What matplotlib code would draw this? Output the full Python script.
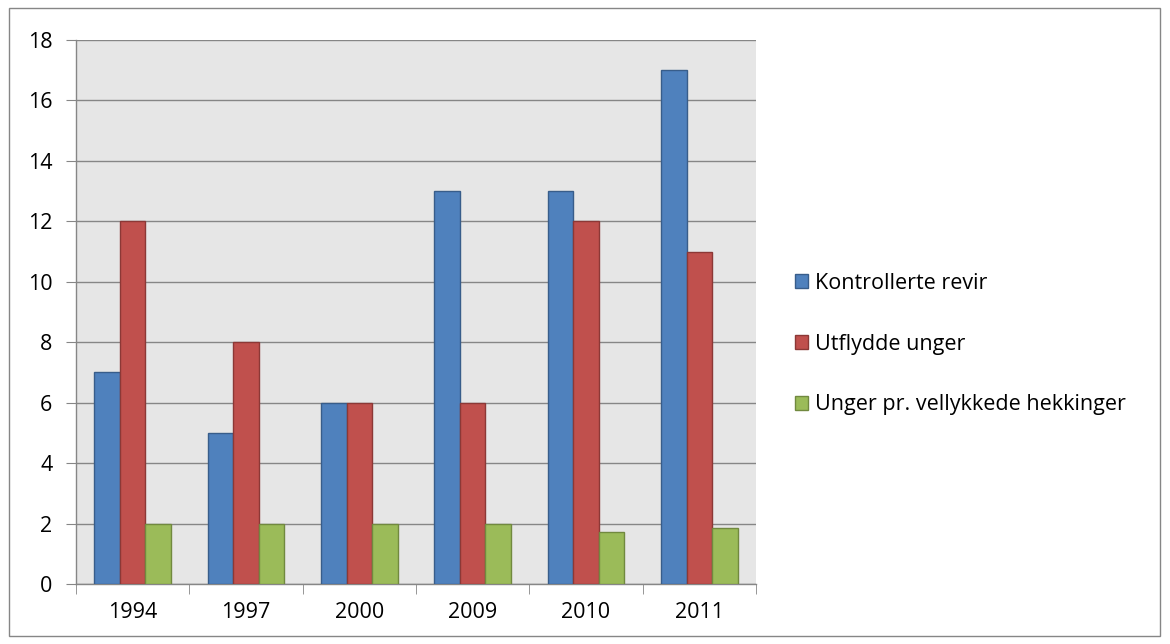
import matplotlib
matplotlib.use("Agg")
import matplotlib.pyplot as plt
import numpy as np
from matplotlib.patches import Rectangle

years = ["1994", "1997", "2000", "2009", "2010", "2011"]
kontrollerte = [7, 5, 6, 13, 13, 17]
utflydde = [12, 8, 6, 6, 12, 11]
unger_pr = [2, 2, 2, 2, 1.72, 1.85]
series_names = ["Kontrollerte revir", "Utflydde unger", "Unger pr. vellykkede hekkinger"]
yticks = [0, 2, 4, 6, 8, 10, 12, 14, 16, 18]

plt.rcParams['font.family'] = ['Open Sans', 'DejaVu Sans']
FS = 15.5

fig = plt.figure(figsize=(11.7, 6.44), dpi=100)
fig.patches.append(Rectangle((9/1170, 8/644), 1151/1170, 628/644, transform=fig.transFigure,
                             fill=False, edgecolor='#868686', linewidth=1.0))
ax = fig.add_axes([76/1170, 1 - 584/644, 680/1170, 544/644])
ax.set_facecolor('#E6E6E6')

x = np.arange(len(years))
w = 0.226
colors = ['#4F81BD', '#C0504D', '#9BBB59']
edges = ['#385D8A', '#8C3836', '#71893F']
for i, (vals, c, e, name) in enumerate(zip([kontrollerte, utflydde, unger_pr], colors, edges, series_names)):
    ax.bar(x + (i - 1) * w, vals, width=w, color=c, edgecolor=e, linewidth=1.0, label=name, zorder=3)

ax.set_xlim(-0.5, len(years) - 0.5)
ax.set_ylim(0, 18)
ax.set_yticks(yticks)
ax.set_yticklabels([str(v) for v in yticks], fontsize=FS)
ax.yaxis.grid(True, color='#868686', linewidth=1.0, zorder=0)
ax.set_axisbelow(True)
ax.set_xticks(x)
ax.set_xticklabels(years, fontsize=FS)
ax.set_xticks(np.arange(-0.5, len(years)), minor=True)
ax.tick_params(axis='x', which='major', length=0, pad=13)
ax.tick_params(axis='x', which='minor', length=7, color='#868686', direction='out')
ax.tick_params(axis='y', length=7, color='#868686', direction='out', pad=10)
for s in ['top', 'right']:
    ax.spines[s].set_visible(False)
for s in ['left', 'bottom']:
    ax.spines[s].set_color('#868686')
    ax.spines[s].set_linewidth(1.0)

leg = ax.legend(loc='center left', bbox_to_anchor=(1.058, 0.441), frameon=False, fontsize=FS,
                handlelength=0.6, handleheight=0.6, handletextpad=0.3, labelspacing=1.85,
                borderaxespad=0.0, borderpad=0.0)

fig.savefig("out.png", dpi=100)
